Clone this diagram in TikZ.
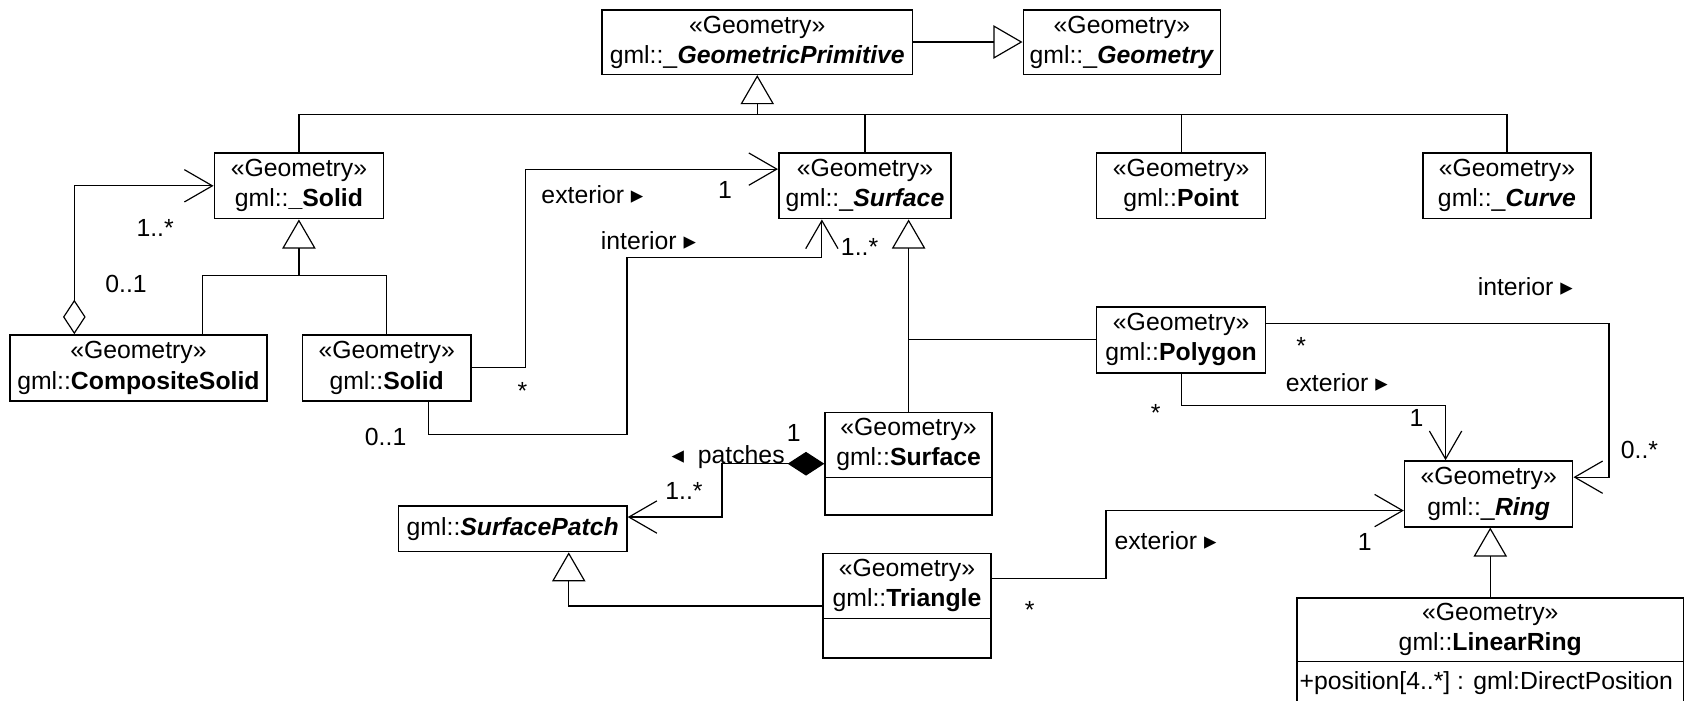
\documentclass[tikz,border=0pt]{standalone}
\usepackage{fontspec}
\setmainfont{Liberation Sans}
\newfontfamily\symfont{DejaVu Sans}
\usetikzlibrary{arrows.meta}
\newcommand{\rtri}{{\symfont ▸}}
\newcommand{\ltri}{{\symfont ◂}}
\tikzset{
  box/.style={draw, line width=1.5pt, inner sep=0pt, align=center, minimum height=61pt},
  nm/.style={inner sep=0pt, align=center},
  conn/.style={line width=1.1pt, line join=miter},
  gen/.style={conn, -{Triangle[open, length=27pt, width=31pt]}},
  nav/.style={conn, -{Straight Barb[length=26pt, width=30pt]}},
  agg/.style={conn, {Diamond[open, length=32pt, width=21pt]}-{Straight Barb[length=26pt, width=30pt]}},
  compo/.style={conn, {Diamond[length=34pt, width=22pt]}-{Straight Barb[length=26pt, width=30pt]}},
  lbl/.style={anchor=base, inner sep=0pt},
}
\begin{document}
\begin{tikzpicture}[x=1pt, y=-1pt, font=\fontsize{23}{28}\selectfont]
\fill[white] (0,0) rectangle (1568,650);
\useasboundingbox (0,0) rectangle (1568,650);

% boxes
\node[box, minimum width=288pt, minimum height=60pt] (gp) at (703,39) {«Geometry»\\gml::\_\textbf{\textit{GeometricPrimitive}}};
\node[box, minimum width=183pt, minimum height=60pt] (geom) at (1041.5,39) {«Geometry»\\gml::\_\textbf{\textit{Geometry}}};
\node[box, minimum width=157pt] (solidA) at (277.5,172.5) {«Geometry»\\gml::\textbf{\_Solid}};
\node[box, minimum width=160pt] (surfA) at (803,172.5) {«Geometry»\\gml::\_\textbf{\textit{Surface}}};
\node[box, minimum width=157pt] (point) at (1096.5,172.5) {«Geometry»\\gml::\textbf{Point}};
\node[box, minimum width=156pt] (curve) at (1399,172.5) {«Geometry»\\gml::\_\textbf{\textit{Curve}}};
\node[box, minimum width=239pt] (comp) at (128.5,341.5) {«Geometry»\\gml::\textbf{CompositeSolid}};
\node[box, minimum width=156pt] (solid) at (359,341.5) {«Geometry»\\gml::\textbf{Solid}};
\node[box, minimum width=157pt] (polygon) at (1096.5,315.5) {«Geometry»\\gml::\textbf{Polygon}};
\node[box, minimum width=212pt, minimum height=42pt] (patch) at (476,491) {gml::\textbf{\textit{SurfacePatch}}};
\node[box, minimum width=156pt] (ring) at (1382,458.5) {«Geometry»\\gml::\_\textbf{\textit{Ring}}};

\node[box, minimum width=155pt, minimum height=95pt] (surface) at (843.5,430.5) {};
\node[nm] (surfacename) at ([yshift=-30.5pt]surface.north) {«Geometry»\\gml::\textbf{Surface}};
\draw[line width=1.5pt] ([yshift=-61pt]surface.north west) -- ([yshift=-61pt]surface.north east);

\node[box, minimum width=156pt, minimum height=97pt] (triangle) at (842,562.5) {};
\node[nm] (trianglename) at ([yshift=-30.5pt]triangle.north) {«Geometry»\\gml::\textbf{Triangle}};
\draw[line width=1.5pt] ([yshift=-61pt]triangle.north west) -- ([yshift=-61pt]triangle.north east);

\node[box, minimum width=359pt, minimum height=100pt] (linring) at (1383.5,605) {};
\node[nm] (linringname) at ([yshift=-30pt]linring.north) {«Geometry»\\gml::\textbf{LinearRing}};
\draw[line width=1.5pt] ([yshift=-60pt]linring.north west) -- ([yshift=-60pt]linring.north east);
\node[anchor=base west, inner sep=0pt] (lrattr) at ([xshift=3pt, yshift=-86pt]linring.north west) {+position[4..*] : gml:DirectPosition};

% generalizations
\draw[gen] (gp) -- (geom);
\coordinate (busj) at (703,106);
\draw[gen] (busj) -- (gp.south);
\draw[conn] (solidA.north) |- (busj);
\draw[conn] (surfA.north) |- (busj);
\draw[conn] (point.north) |- (busj);
\draw[conn] (curve.north) |- (busj);

\coordinate (sj) at (277.5,256);
\draw[gen] (sj) -- (solidA.south);
\draw[conn] ([xshift=59.5pt]comp.north) |- (sj);
\draw[conn] (solid.north) |- (sj);

\draw[gen] (surface.north) -- (surface.north |- surfA.south);
\draw[conn] (polygon.west) -- (polygon.west -| surface.north);

\draw[gen] (triangle.west) -| ([xshift=52pt]patch.south);
\draw[gen] (linring.north) -- (linring.north |- ring.south);

% associations
\draw[agg] ([xshift=-59.5pt]comp.north) |- (solidA.west);
\draw[nav] (solid.east) -- ++(50,0) |- ([yshift=15.5pt]surfA.west);
\coordinate (ia) at (582,403);
\coordinate (ib) at (763,239);
\draw[nav] ([xshift=38.5pt]solid.south) |- (ia) |- (ib) -- ([xshift=-40pt]surfA.south);
\draw[compo] (surface.west) -- ++(-95,0) |- ([yshift=11pt]patch.east);
\draw[nav] ([yshift=25.5pt]triangle.east) -- ++(106,0) |- ([yshift=-15.5pt]ring.west);
\draw[nav] (polygon.south) -- ++(0,30) -| ([xshift=-40pt]ring.north);
\draw[nav] ([yshift=15.5pt]polygon.east) -- ++(318,0) |- ([yshift=15.5pt]ring.east);

% labels
\node[lbl] (l1) at (144,220) {1..*};
\node[lbl] (l2) at (117,272) {0..1};
\node[lbl] (l3) at (550,189) {exterior \rtri};
\node[lbl] (l4) at (673,184) {1};
\node[lbl] (l5) at (485,371) {*};
\node[lbl] (l6) at (602,232) {interior \rtri};
\node[lbl] (l7) at (798,237) {1..*};
\node[lbl] (l8) at (358,414) {0..1};
\node[lbl] (l9) at (737,410) {1};
\node[lbl] (l10) at (676,430) {\ltri\ \ patches};
\node[lbl] (l11) at (635,464) {1..*};
\node[lbl] (l12) at (1416,274) {interior \rtri};
\node[lbl] (l13) at (1208,329) {*};
\node[lbl] (l14) at (1241,363) {exterior \rtri};
\node[lbl] (l15) at (1315,396) {1};
\node[lbl] (l16) at (1073,391) {*};
\node[lbl] (l17) at (1522,426) {0..*};
\node[lbl] (l18) at (1082,510) {exterior \rtri};
\node[lbl] (l19) at (1267,511) {1};
\node[lbl] (l20) at (956,574) {*};
\end{tikzpicture}
\end{document}
